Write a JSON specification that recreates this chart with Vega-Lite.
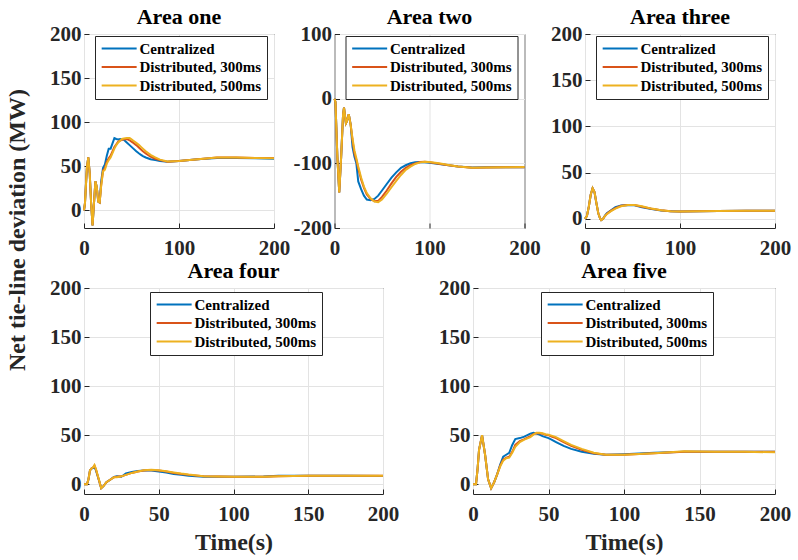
{
  "$schema": "https://vega.github.io/schema/vega-lite/v6.json",
  "background": "white",
  "padding": {"left": 5, "top": 5, "right": 5, "bottom": 5},
  "title": {"text": "Net tie-line deviation (MW)", "orient": "left", "anchor": "middle", "frame": "bounds", "fontSize": 24, "fontWeight": "bold", "color": "#262626", "offset": 0, "baseline": "alphabetic", "dx": 50},
  "datasets": {
    "one": [
      {"time": 0, "centralized": 0, "dist300": 0, "dist500": 0},
      {"time": 1, "centralized": 8, "dist300": 8, "dist500": 8},
      {"time": 3, "centralized": 48, "dist300": 48, "dist500": 48},
      {"time": 4.5, "centralized": 60, "dist300": 60, "dist500": 60},
      {"time": 6, "centralized": 42, "dist300": 42, "dist500": 42},
      {"time": 7.5, "centralized": 8, "dist300": 8, "dist500": 8},
      {"time": 9, "centralized": -17, "dist300": -17, "dist500": -17},
      {"time": 10.5, "centralized": 8, "dist300": 8, "dist500": 8},
      {"time": 12, "centralized": 33, "dist300": 33, "dist500": 33},
      {"time": 13.5, "centralized": 26, "dist300": 26, "dist500": 26},
      {"time": 15, "centralized": 10, "dist300": 10, "dist500": 10},
      {"time": 16.5, "centralized": 9, "dist300": 9, "dist500": 9},
      {"time": 18, "centralized": 32, "dist300": 28, "dist500": 27},
      {"time": 20, "centralized": 48, "dist300": 45, "dist500": 44},
      {"time": 22, "centralized": 52, "dist300": 48, "dist500": 46},
      {"time": 24, "centralized": 62, "dist300": 55, "dist500": 53},
      {"time": 26, "centralized": 70, "dist300": 59, "dist500": 57},
      {"time": 28, "centralized": 70, "dist300": 62, "dist500": 60},
      {"time": 30, "centralized": 76, "dist300": 67, "dist500": 65},
      {"time": 32, "centralized": 82, "dist300": 72, "dist500": 70},
      {"time": 34, "centralized": 81, "dist300": 75, "dist500": 74},
      {"time": 36, "centralized": 80.5, "dist300": 78, "dist500": 77},
      {"time": 38, "centralized": 81, "dist300": 79, "dist500": 79},
      {"time": 40, "centralized": 80.5, "dist300": 80, "dist500": 81},
      {"time": 42, "centralized": 80, "dist300": 80.5, "dist500": 81.5},
      {"time": 45, "centralized": 77, "dist300": 81, "dist500": 82},
      {"time": 48, "centralized": 74, "dist300": 79.5, "dist500": 82},
      {"time": 50, "centralized": 72, "dist300": 78, "dist500": 80.5},
      {"time": 52, "centralized": 70, "dist300": 76.5, "dist500": 79},
      {"time": 55, "centralized": 67, "dist300": 74, "dist500": 76.5},
      {"time": 58, "centralized": 64.5, "dist300": 71, "dist500": 74},
      {"time": 60, "centralized": 63, "dist300": 69, "dist500": 72},
      {"time": 62, "centralized": 61.5, "dist300": 67, "dist500": 70},
      {"time": 65, "centralized": 60, "dist300": 64.5, "dist500": 67},
      {"time": 70, "centralized": 58, "dist300": 61, "dist500": 63},
      {"time": 75, "centralized": 57, "dist300": 58.5, "dist500": 60},
      {"time": 80, "centralized": 56, "dist300": 57, "dist500": 57.5},
      {"time": 88, "centralized": 55, "dist300": 55, "dist500": 55.5},
      {"time": 100, "centralized": 56, "dist300": 56, "dist500": 56},
      {"time": 120, "centralized": 58, "dist300": 58, "dist500": 58},
      {"time": 140, "centralized": 59.5, "dist300": 60, "dist500": 60},
      {"time": 160, "centralized": 59.5, "dist300": 60, "dist500": 60},
      {"time": 180, "centralized": 59, "dist300": 59.5, "dist500": 59.5},
      {"time": 200, "centralized": 58.5, "dist300": 59.5, "dist500": 59}
    ],
    "two": [
      {"time": 0, "centralized": 0, "dist300": 0, "dist500": 0},
      {"time": 1, "centralized": -5, "dist300": -5, "dist500": -5},
      {"time": 3, "centralized": -90, "dist300": -90, "dist500": -90},
      {"time": 5, "centralized": -145, "dist300": -145, "dist500": -145},
      {"time": 7, "centralized": -90, "dist300": -90, "dist500": -90},
      {"time": 9, "centralized": -25, "dist300": -25, "dist500": -25},
      {"time": 10, "centralized": -14, "dist300": -14, "dist500": -14},
      {"time": 12, "centralized": -38, "dist300": -38, "dist500": -38},
      {"time": 13, "centralized": -35, "dist300": -35, "dist500": -35},
      {"time": 15, "centralized": -24, "dist300": -24, "dist500": -24},
      {"time": 17, "centralized": -40, "dist300": -40, "dist500": -40},
      {"time": 19, "centralized": -75, "dist300": -65, "dist500": -62},
      {"time": 21, "centralized": -90, "dist300": -85, "dist500": -80},
      {"time": 23, "centralized": -100, "dist300": -95, "dist500": -92},
      {"time": 25, "centralized": -128, "dist300": -108, "dist500": -105},
      {"time": 28, "centralized": -140, "dist300": -125, "dist500": -122},
      {"time": 31, "centralized": -150, "dist300": -138, "dist500": -136},
      {"time": 34, "centralized": -156, "dist300": -148, "dist500": -146},
      {"time": 38, "centralized": -157, "dist300": -155, "dist500": -154},
      {"time": 42, "centralized": -155, "dist300": -158.5, "dist500": -159},
      {"time": 46, "centralized": -150, "dist300": -158, "dist500": -160},
      {"time": 50, "centralized": -142, "dist300": -152, "dist500": -156},
      {"time": 55, "centralized": -132, "dist300": -142, "dist500": -147},
      {"time": 60, "centralized": -122, "dist300": -131, "dist500": -137},
      {"time": 65, "centralized": -114, "dist300": -121, "dist500": -127},
      {"time": 70, "centralized": -107, "dist300": -113, "dist500": -118},
      {"time": 75, "centralized": -103, "dist300": -107, "dist500": -110},
      {"time": 80, "centralized": -100, "dist300": -103, "dist500": -105},
      {"time": 85, "centralized": -98.5, "dist300": -100, "dist500": -101},
      {"time": 90, "centralized": -98, "dist300": -98, "dist500": -98.5},
      {"time": 95, "centralized": -98.5, "dist300": -97.5, "dist500": -97.5},
      {"time": 100, "centralized": -99, "dist300": -98.5, "dist500": -98},
      {"time": 110, "centralized": -101, "dist300": -100.5, "dist500": -100},
      {"time": 120, "centralized": -103, "dist300": -103, "dist500": -102.5},
      {"time": 130, "centralized": -105, "dist300": -105, "dist500": -105},
      {"time": 145, "centralized": -106.5, "dist300": -107, "dist500": -107},
      {"time": 160, "centralized": -106, "dist300": -106.5, "dist500": -106.5},
      {"time": 180, "centralized": -106, "dist300": -106, "dist500": -106},
      {"time": 200, "centralized": -106, "dist300": -106, "dist500": -105.5}
    ],
    "three": [
      {"time": 0, "centralized": 0, "dist300": 0, "dist500": 0},
      {"time": 2, "centralized": 3, "dist300": 3, "dist500": 3},
      {"time": 4, "centralized": 13, "dist300": 13, "dist500": 13},
      {"time": 6, "centralized": 26, "dist300": 26, "dist500": 26},
      {"time": 8, "centralized": 33, "dist300": 33, "dist500": 33},
      {"time": 10, "centralized": 29, "dist300": 29, "dist500": 29},
      {"time": 12, "centralized": 17, "dist300": 17, "dist500": 17},
      {"time": 14, "centralized": 6, "dist300": 6, "dist500": 6},
      {"time": 16, "centralized": 0, "dist300": 0, "dist500": 0},
      {"time": 17, "centralized": -1.5, "dist300": -1.5, "dist500": -1.5},
      {"time": 19, "centralized": 0, "dist300": 0, "dist500": 0},
      {"time": 21, "centralized": 3.5, "dist300": 3, "dist500": 3},
      {"time": 23, "centralized": 6, "dist300": 5.5, "dist500": 5},
      {"time": 27, "centralized": 9, "dist300": 8.5, "dist500": 8},
      {"time": 32, "centralized": 12.5, "dist300": 11.5, "dist500": 11},
      {"time": 38, "centralized": 14.5, "dist300": 14, "dist500": 13.5},
      {"time": 45, "centralized": 15, "dist300": 15, "dist500": 14.8},
      {"time": 52, "centralized": 14.5, "dist300": 14.8, "dist500": 15},
      {"time": 60, "centralized": 12.5, "dist300": 13, "dist500": 13.5},
      {"time": 70, "centralized": 10.5, "dist300": 10.8, "dist500": 11},
      {"time": 80, "centralized": 9, "dist300": 9.2, "dist500": 9.3},
      {"time": 90, "centralized": 8, "dist300": 8.2, "dist500": 8.2},
      {"time": 100, "centralized": 7.8, "dist300": 7.8, "dist500": 7.8},
      {"time": 120, "centralized": 8, "dist300": 8, "dist500": 8},
      {"time": 140, "centralized": 8.5, "dist300": 8.5, "dist500": 8.5},
      {"time": 170, "centralized": 8.7, "dist300": 8.7, "dist500": 8.7},
      {"time": 200, "centralized": 8.7, "dist300": 8.7, "dist500": 8.7}
    ],
    "four": [
      {"time": 0, "centralized": 0, "dist300": 0, "dist500": 0},
      {"time": 2, "centralized": 0, "dist300": 0, "dist500": 0},
      {"time": 3, "centralized": 5, "dist300": 5, "dist500": 5},
      {"time": 4, "centralized": 14, "dist300": 14, "dist500": 14},
      {"time": 5, "centralized": 16, "dist300": 16, "dist500": 16},
      {"time": 6, "centralized": 16.5, "dist300": 17, "dist500": 17},
      {"time": 7, "centralized": 17.5, "dist300": 19, "dist500": 19.5},
      {"time": 8, "centralized": 14, "dist300": 15, "dist500": 15.5},
      {"time": 10, "centralized": 4, "dist300": 4, "dist500": 4.5},
      {"time": 11.5, "centralized": -4, "dist300": -4, "dist500": -4},
      {"time": 13, "centralized": -2, "dist300": -2, "dist500": -2},
      {"time": 15, "centralized": 2, "dist300": 2, "dist500": 2},
      {"time": 18, "centralized": 5, "dist300": 5, "dist500": 5},
      {"time": 20, "centralized": 7.5, "dist300": 7, "dist500": 7},
      {"time": 22, "centralized": 8, "dist300": 7.5, "dist500": 7},
      {"time": 25, "centralized": 7.5, "dist300": 8, "dist500": 8},
      {"time": 28, "centralized": 11, "dist300": 9.5, "dist500": 9.5},
      {"time": 32, "centralized": 12.5, "dist300": 11.5, "dist500": 11.5},
      {"time": 36, "centralized": 13.5, "dist300": 13, "dist500": 13},
      {"time": 40, "centralized": 14, "dist300": 14, "dist500": 14.2},
      {"time": 45, "centralized": 14, "dist300": 14.5, "dist500": 14.8},
      {"time": 50, "centralized": 13, "dist300": 14, "dist500": 14.3},
      {"time": 55, "centralized": 12, "dist300": 13, "dist500": 13.3},
      {"time": 60, "centralized": 10.5, "dist300": 11.5, "dist500": 12},
      {"time": 65, "centralized": 9.5, "dist300": 10.5, "dist500": 10.8},
      {"time": 70, "centralized": 8.5, "dist300": 9.5, "dist500": 9.8},
      {"time": 80, "centralized": 7.5, "dist300": 8, "dist500": 8.2},
      {"time": 100, "centralized": 7.5, "dist300": 7.5, "dist500": 7.5},
      {"time": 120, "centralized": 7.8, "dist300": 7.5, "dist500": 7.5},
      {"time": 130, "centralized": 8.5, "dist300": 8, "dist500": 8},
      {"time": 150, "centralized": 8.5, "dist300": 8.5, "dist500": 8.5},
      {"time": 175, "centralized": 8.5, "dist300": 8.5, "dist500": 8.5},
      {"time": 200, "centralized": 8.3, "dist300": 8.5, "dist500": 8.5}
    ],
    "five": [
      {"time": 0, "centralized": 0, "dist300": 0, "dist500": 0},
      {"time": 2, "centralized": 0, "dist300": 0, "dist500": 0},
      {"time": 3, "centralized": 15, "dist300": 15, "dist500": 15},
      {"time": 4, "centralized": 35, "dist300": 35, "dist500": 35},
      {"time": 6, "centralized": 50, "dist300": 50, "dist500": 50},
      {"time": 8, "centralized": 30, "dist300": 30, "dist500": 30},
      {"time": 10, "centralized": 5, "dist300": 5, "dist500": 5},
      {"time": 12, "centralized": -4, "dist300": -4, "dist500": -4},
      {"time": 14, "centralized": 2, "dist300": 2, "dist500": 2},
      {"time": 16, "centralized": 10, "dist300": 10, "dist500": 10},
      {"time": 18, "centralized": 20, "dist300": 19, "dist500": 18},
      {"time": 20, "centralized": 28, "dist300": 25, "dist500": 24},
      {"time": 22, "centralized": 30, "dist300": 27, "dist500": 26.5},
      {"time": 24, "centralized": 32, "dist300": 28, "dist500": 27},
      {"time": 26, "centralized": 40, "dist300": 33, "dist500": 32},
      {"time": 28, "centralized": 46, "dist300": 40, "dist500": 38},
      {"time": 31, "centralized": 47, "dist300": 44, "dist500": 43},
      {"time": 34, "centralized": 48.5, "dist300": 46, "dist500": 45.5},
      {"time": 38, "centralized": 51.5, "dist300": 49, "dist500": 48},
      {"time": 40, "centralized": 52.5, "dist300": 51, "dist500": 50.5},
      {"time": 42, "centralized": 51.5, "dist300": 52, "dist500": 52.5},
      {"time": 44, "centralized": 50.5, "dist300": 52, "dist500": 52.5},
      {"time": 46, "centralized": 49, "dist300": 51.5, "dist500": 52},
      {"time": 48, "centralized": 48, "dist300": 50.5, "dist500": 51},
      {"time": 50, "centralized": 47, "dist300": 50, "dist500": 50.5},
      {"time": 52, "centralized": 45.5, "dist300": 48.5, "dist500": 49.5},
      {"time": 55, "centralized": 43, "dist300": 47, "dist500": 48},
      {"time": 60, "centralized": 39, "dist300": 43, "dist500": 44},
      {"time": 65, "centralized": 36, "dist300": 39, "dist500": 40},
      {"time": 72, "centralized": 33, "dist300": 35, "dist500": 36},
      {"time": 80, "centralized": 31, "dist300": 31.5, "dist500": 32},
      {"time": 88, "centralized": 30, "dist300": 30, "dist500": 30},
      {"time": 100, "centralized": 30.5, "dist300": 30, "dist500": 30},
      {"time": 120, "centralized": 32, "dist300": 31.5, "dist500": 31.5},
      {"time": 140, "centralized": 33, "dist300": 33, "dist500": 33.5},
      {"time": 160, "centralized": 33, "dist300": 33, "dist500": 33},
      {"time": 180, "centralized": 33, "dist300": 33, "dist500": 33},
      {"time": 200, "centralized": 33, "dist300": 33, "dist500": 32.5}
    ]
  },
  "vconcat": [
    {
      "hconcat": [
        {
          "title": {"text": "Area one", "frame": "group"},
          "width": 190,
          "height": 194,
          "data": {"name": "one"},
          "transform": [{"fold": ["centralized", "dist300", "dist500"], "as": ["series", "value"]}],
          "mark": "line",
          "encoding": {
            "x": {"field": "time", "type": "quantitative", "scale": {"domain": [0, 200], "nice": false}, "axis": {"values": [0, 100, 200], "title": null}},
            "y": {"field": "value", "type": "quantitative", "scale": {"domain": [-20, 200], "nice": false, "zero": false}, "axis": {"values": [0, 50, 100, 150, 200], "title": null}},
            "color": {"field": "series", "type": "nominal", "title": null,
              "scale": {"domain": ["centralized", "dist300", "dist500"], "range": ["#0072BD", "#D95319", "#EDB120"]},
              "legend": {"legendX": 11, "legendY": 2, "labelExpr": "{'centralized': 'Centralized', 'dist300': 'Distributed, 300ms', 'dist500': 'Distributed, 500ms'}[datum.label]"}}
          }
        },
        {
          "title": {"text": "Area two", "frame": "group"},
          "width": 190,
          "height": 194,
          "data": {"name": "two"},
          "transform": [{"fold": ["centralized", "dist300", "dist500"], "as": ["series", "value"]}],
          "mark": "line",
          "encoding": {
            "x": {"field": "time", "type": "quantitative", "scale": {"domain": [0, 200], "nice": false}, "axis": {"values": [0, 100, 200], "title": null}},
            "y": {"field": "value", "type": "quantitative", "scale": {"domain": [-200, 100], "nice": false, "zero": false}, "axis": {"values": [-200, -100, 0, 100], "title": null}},
            "color": {"field": "series", "type": "nominal", "title": null,
              "scale": {"domain": ["centralized", "dist300", "dist500"], "range": ["#0072BD", "#D95319", "#EDB120"]},
              "legend": {"legendX": 11, "legendY": 2, "labelExpr": "{'centralized': 'Centralized', 'dist300': 'Distributed, 300ms', 'dist500': 'Distributed, 500ms'}[datum.label]"}}
          }
        },
        {
          "title": {"text": "Area three", "frame": "group"},
          "width": 190,
          "height": 194,
          "data": {"name": "three"},
          "transform": [{"fold": ["centralized", "dist300", "dist500"], "as": ["series", "value"]}],
          "mark": "line",
          "encoding": {
            "x": {"field": "time", "type": "quantitative", "scale": {"domain": [0, 200], "nice": false}, "axis": {"values": [0, 100, 200], "title": null}},
            "y": {"field": "value", "type": "quantitative", "scale": {"domain": [-10, 200], "nice": false, "zero": false}, "axis": {"values": [0, 50, 100, 150, 200], "title": null}},
            "color": {"field": "series", "type": "nominal", "title": null,
              "scale": {"domain": ["centralized", "dist300", "dist500"], "range": ["#0072BD", "#D95319", "#EDB120"]},
              "legend": {"legendX": 11, "legendY": 2, "labelExpr": "{'centralized': 'Centralized', 'dist300': 'Distributed, 300ms', 'dist500': 'Distributed, 500ms'}[datum.label]"}}
          }
        }
      ],
      "spacing": 60.5,
      "bounds": "flush",
      "resolve": {"scale": {"x": "independent", "y": "independent", "color": "independent"}, "legend": {"color": "independent"}}
    },
    {
      "hconcat": [
        {
          "title": {"text": "Area four", "frame": "group"},
          "width": 299,
          "height": 206,
          "data": {"name": "four"},
          "transform": [{"fold": ["centralized", "dist300", "dist500"], "as": ["series", "value"]}],
          "mark": "line",
          "encoding": {
            "x": {"field": "time", "type": "quantitative", "scale": {"domain": [0, 200], "nice": false}, "axis": {"values": [0, 50, 100, 150, 200], "title": "Time(s)"}},
            "y": {"field": "value", "type": "quantitative", "scale": {"domain": [-10, 200], "nice": false, "zero": false}, "axis": {"values": [0, 50, 100, 150, 200], "title": null}},
            "color": {"field": "series", "type": "nominal", "title": null,
              "scale": {"domain": ["centralized", "dist300", "dist500"], "range": ["#0072BD", "#D95319", "#EDB120"]},
              "legend": {"legendX": 66, "legendY": 4, "labelExpr": "{'centralized': 'Centralized', 'dist300': 'Distributed, 300ms', 'dist500': 'Distributed, 500ms'}[datum.label]"}}
          }
        },
        {
          "title": {"text": "Area five", "frame": "group"},
          "width": 302,
          "height": 206,
          "data": {"name": "five"},
          "transform": [{"fold": ["centralized", "dist300", "dist500"], "as": ["series", "value"]}],
          "mark": "line",
          "encoding": {
            "x": {"field": "time", "type": "quantitative", "scale": {"domain": [0, 200], "nice": false}, "axis": {"values": [0, 50, 100, 150, 200], "title": "Time(s)"}},
            "y": {"field": "value", "type": "quantitative", "scale": {"domain": [-10, 200], "nice": false, "zero": false}, "axis": {"values": [0, 50, 100, 150, 200], "title": null}},
            "color": {"field": "series", "type": "nominal", "title": null,
              "scale": {"domain": ["centralized", "dist300", "dist500"], "range": ["#0072BD", "#D95319", "#EDB120"]},
              "legend": {"legendX": 68, "legendY": 4, "labelExpr": "{'centralized': 'Centralized', 'dist300': 'Distributed, 300ms', 'dist500': 'Distributed, 500ms'}[datum.label]"}}
          }
        }
      ],
      "spacing": 90,
      "bounds": "flush",
      "resolve": {"scale": {"x": "independent", "y": "independent", "color": "independent"}, "legend": {"color": "independent"}}
    }
  ],
  "spacing": 0,
  "resolve": {"scale": {"x": "independent", "y": "independent", "color": "independent"}, "legend": {"color": "independent"}},
  "config": {
    "font": "Liberation Serif",
    "view": {"stroke": "#262626", "strokeWidth": 1},
    "line": {"strokeWidth": 2, "clip": true},
    "title": {"font": "Liberation Serif", "fontSize": 22, "fontWeight": "bold", "color": "#000000", "anchor": "middle", "baseline": "alphabetic", "offset": -6},
    "axis": {
      "domain": false,
      "labelFont": "Liberation Serif",
      "labelFontWeight": "bold",
      "labelFontSize": 21,
      "labelColor": "#262626",
      "labelPadding": 8,
      "labelFlush": false,
      "labelOverlap": false,
      "labelExpr": "'' + datum.value",
      "tickColor": "#262626",
      "tickSize": -5,
      "gridColor": "#e3e3e3",
      "gridWidth": 1,
      "titleFont": "Liberation Serif",
      "titleFontWeight": "bold",
      "titleFontSize": 24,
      "titleColor": "#262626",
      "titlePadding": 6
    },
    "axisX": {"labelPadding": 14},
    "legend": {
      "orient": "none",
      "symbolType": "M-1,0H5",
      "symbolSize": 136,
      "symbolStrokeWidth": 2,
      "labelFont": "Liberation Serif",
      "labelFontWeight": "bold",
      "labelFontSize": 15,
      "labelColor": "#000000",
      "labelOffset": 24.5,
      "rowPadding": 2.5,
      "padding": 5,
      "strokeColor": "#262626",
      "fillColor": "white",
      "labelLimit": 300
    }
  }
}
